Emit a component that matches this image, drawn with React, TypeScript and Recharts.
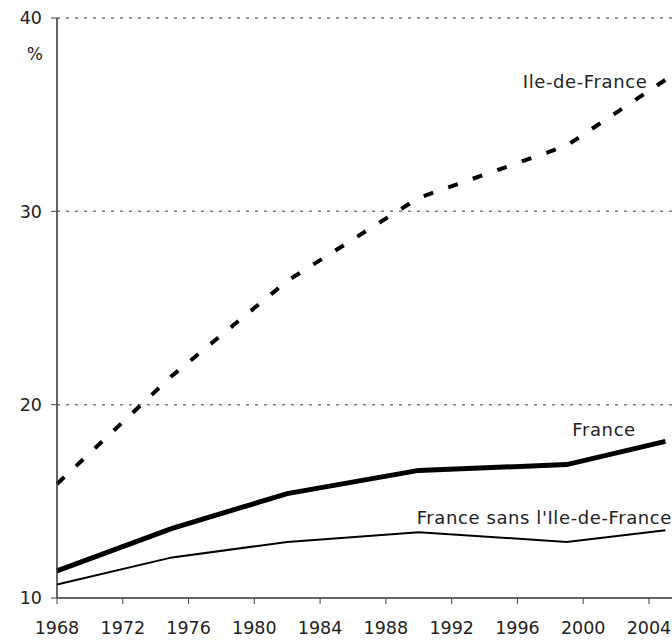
import { LineChart, Line, XAxis, YAxis, CartesianGrid, ReferenceDot } from 'recharts';

const years = [1968, 1975, 1982, 1990, 1999, 2005];
const ileDeFrance = [15.9, 21.5, 26.4, 30.7, 33.4, 36.8];
const france = [11.4, 13.6, 15.4, 16.6, 16.9, 18.1];
const franceSansIdf = [10.7, 12.1, 12.9, 13.4, 12.9, 13.5];

const xTicks = [1968, 1972, 1976, 1980, 1984, 1988, 1992, 1996, 2000, 2004];
const yTicks = [10, 20, 30, 40];

const data = years.map((year, i) => ({
  year,
  idf: ileDeFrance[i],
  france: france[i],
  sans: franceSansIdf[i],
}));

const FONT = '"DejaVu Sans", Verdana, sans-serif';
const INK = '#222';

const tag =
  (text: string) =>
  ({ viewBox }: any) => (
    <text
      x={viewBox.x + viewBox.width / 2}
      y={viewBox.y + viewBox.height / 2}
      textAnchor="end"
      dominantBaseline="central"
      fontFamily={FONT}
      fontSize={18}
      letterSpacing={0.6}
      fill={INK}
    >
      {text}
    </text>
  );

export default function App() {
  return (
    <div style={{ position: 'absolute', left: 0, top: 0, background: '#fff' }}>
      <LineChart width={672} height={640} data={data} margin={{ top: 18, right: 0, bottom: 0, left: 0 }}>
        <CartesianGrid vertical={false} stroke="#777" strokeDasharray="3 6" strokeWidth={1.5} />
        <XAxis
          dataKey="year"
          type="number"
          domain={[1968, 2005.4]}
          ticks={xTicks}
          height={42}
          tickSize={6}
          tickMargin={18}
          axisLine={{ stroke: '#666', strokeWidth: 2 }}
          tickLine={{ stroke: '#444' }}
          tick={{ fill: INK, fontSize: 17.5, fontFamily: FONT }}
        />
        <YAxis
          type="number"
          domain={[10, 40]}
          ticks={yTicks}
          width={57}
          tickSize={6}
          tickMargin={9}
          axisLine={{ stroke: '#333', strokeWidth: 1.5 }}
          tickLine={{ stroke: '#444' }}
          tick={{ fill: INK, fontSize: 17.5, fontFamily: FONT }}
          label={{
            content: ({ viewBox }: any) => (
              <text
                x={viewBox.x + viewBox.width - 14}
                y={viewBox.y + 36}
                textAnchor="end"
                dominantBaseline="central"
                fontFamily={FONT}
                fontSize={17}
                fill={INK}
              >
                %
              </text>
            ),
          }}
        />
        <Line
          dataKey="idf"
          stroke="#000"
          strokeWidth={4}
          strokeDasharray="10 16"
          dot={false}
          isAnimationActive={false}
        />
        <Line dataKey="france" stroke="#000" strokeWidth={5} dot={false} isAnimationActive={false} />
        <Line dataKey="sans" stroke="#000" strokeWidth={2} dot={false} isAnimationActive={false} />
        <ReferenceDot x={2003.9} y={36.7} r={1} fill="none" stroke="none" ifOverflow="visible" label={{ content: tag('Ile-de-France') }} />
        <ReferenceDot x={2003.2} y={18.7} r={1} fill="none" stroke="none" ifOverflow="visible" label={{ content: tag('France') }} />
        <ReferenceDot x={2005.4} y={14.15} r={1} fill="none" stroke="none" ifOverflow="visible" label={{ content: tag("France sans l'Ile-de-France") }} />
      </LineChart>
    </div>
  );
}
